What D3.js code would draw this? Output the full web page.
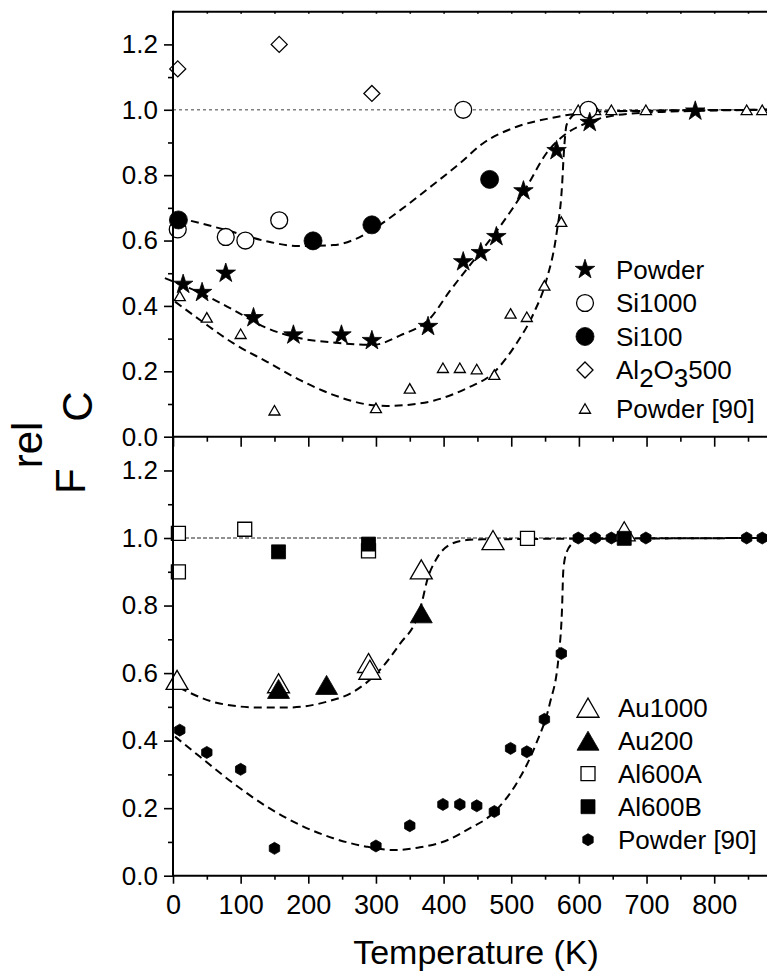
<!DOCTYPE html>
<html>
<head>
<meta charset="utf-8">
<script src="https://cdn.jsdelivr.net/npm/d3@7"></script>
<style>
  body { margin: 0; background: #fff; }
  svg { display: block; }
  text { font-family: "Liberation Sans", Arial, Helvetica, sans-serif; fill: #000; }
</style>
</head>
<body>
<svg id="chart" width="767" height="971"></svg>
<script>
// ---------- data: [temperature (K), relative value] ----------
// upper panel
const powderStars = [[15,0.466],[43,0.441],[78,0.500],[119,0.364],[178,0.311],[249,0.311],[294,0.294],[377,0.337],
  [429,0.535],[455,0.563],[478,0.612],[518,0.752],[567,0.875],[616,0.961],[772,0.996]];
const si1000 = [[7,0.634],[78,0.611],[107,0.600],[157,0.662],[429,1.0],[614,1.0]];
const si100 = [[8,0.663],[207,0.599],[294,0.648],[468,0.787]];
const al2o3 = [[7,1.125],[157,1.200],[294,1.050],[617,1.0]];
// reference powder data, shown in both panels
const powder90 = [[10,0.431],[50,0.365],[100,0.315],[150,0.081],[300,0.088],[350,0.148],[399,0.211],[424,0.211],
  [449,0.207],[475,0.190],[499,0.377],[523,0.367],[549,0.463],[574,0.658],[599,1.0],[624,1.0],[648,1.0],[699,1.0],[848,1.0],[871,1.0]];
// lower panel
const au1000 = [[6,0.58],[156,0.57],[289,0.63],[291,0.61],[367,0.907],[473,0.994],[667,1.02]];
const au200 = [[156,0.553],[227,0.565],[367,0.777]];
const al600A = [[8,1.014],[8,0.900],[106,1.026],[289,0.962],[524,0.999]];
const al600B = [[156,0.959],[289,0.982],[667,0.999]];

// guide-to-the-eye curves
const fitSi = [[8,0.67],[79,0.632],[140,0.597],[185,0.583],[237,0.586],[270,0.605],[300,0.64],[336,0.693],[384,0.770],
  [424,0.836],[458,0.897],[508,0.948],[557,0.974],[602,0.989],[680,0.997],[880,1.0]];
const fitPowder = [[-12,0.485],[40,0.44],[89,0.388],[139,0.332],[188,0.301],[237,0.288],[296,0.281],[336,0.31],[380,0.362],
  [409,0.445],[449,0.551],[483,0.642],[523,0.765],[552,0.867],[582,0.928],[611,0.959],[656,0.984],[730,0.994],[880,1.0]];
const fitPowder90Top = [[3,0.413],[40,0.357],[89,0.286],[139,0.229],[188,0.173],[237,0.128],[286,0.099],[316,0.094],[350,0.098],
  [385,0.11],[434,0.148],[473,0.194],[508,0.286],[533,0.377],[552,0.479],[567,0.622],[575,0.765],[578,0.877],[582,0.955],
  [597,0.989],[621,0.994],[672,0.996],[880,1.0]];
const fitAu = [[9,0.557],[69,0.51],[128,0.498],[168,0.498],[227,0.515],[267,0.545],[301,0.599],[336,0.688],[361,0.765],
  [368,0.81],[375,0.87],[390,0.94],[409,0.98],[434,0.994],[458,0.996],[880,1.0]];
const fitPowder90Bot = [[3,0.412],[40,0.352],[89,0.274],[139,0.204],[188,0.15],[237,0.111],[286,0.086],[326,0.076],[365,0.084],
  [409,0.108],[434,0.135],[473,0.185],[508,0.274],[537,0.392],[557,0.51],[570,0.649],[575,0.787],[577,0.905],[582,0.959],
  [594,0.989],[606,0.997],[880,1.0]];

// axis ticks
const xMajor = [0,100,200,300,400,500,600,700,800,900];
const xMinor = [50,150,250,350,450,550,650,750,850];
const yMajor = [0,0.2,0.4,0.6,0.8,1.0,1.2];
const yMinor = [0.1,0.3,0.5,0.7,0.9,1.1,1.3];

// ---------- layout ----------
const W = 767, H = 971;
const svg = d3.select("#chart");
svg.append("rect").attr("width", W).attr("height", H).attr("fill", "#fff");

const x = d3.scaleLinear().domain([0, 900]).range([173, 173 + 900 * 0.6765]);
const yTop = d3.scaleLinear().domain([0, 1.3]).range([436.7, 11.7]);
const yBot = d3.scaleLinear().domain([0, 1.3]).range([875.7, 436.7]);

// ---------- marker shapes ----------
const tri = w => { const h = w * 0.866; return `M0,${-h/2}L${w/2},${h/2}L${-w/2},${h/2}Z`; };
const hex = r => "M" + d3.range(6).map(i => {
  const a = (-90 + 60 * i) * Math.PI / 180; return [r * Math.cos(a), r * Math.sin(a)].join(",");
}).join("L") + "Z";
const shapes = {
  star: d3.symbol().type(d3.symbolStar).size(118)(),
  ring: d3.symbol().type(d3.symbolCircle).size(225)(),
  dot: d3.symbol().type(d3.symbolCircle).size(255)(),
  diamond: "M0,-8L8,0L0,8L-8,0Z",
  smallTri: tri(11),
  bigTri: tri(22),
  square: "M-7,-7h14v14h-14z",
  hex: hex(6)
};

// ---------- reference lines at 1.0 ----------
svg.append("line").attr("x1", x(0)).attr("x2", W).attr("y1", yTop(1)).attr("y2", yTop(1))
  .attr("stroke", "#808080").attr("stroke-width", 1.5).attr("stroke-dasharray", "3,3");
svg.append("line").attr("x1", x(0)).attr("x2", W).attr("y1", yBot(1)).attr("y2", yBot(1))
  .attr("stroke", "#222").attr("stroke-width", 1).attr("stroke-dasharray", "4,2");

// ---------- dashed curves ----------
function curve(data, y) {
  svg.append("path").datum(data)
    .attr("d", d3.line().x(d => x(d[0])).y(d => y(d[1])).curve(d3.curveMonotoneX))
    .attr("fill", "none").attr("stroke", "#000").attr("stroke-width", 2).attr("stroke-dasharray", "8,5");
}
curve(fitSi, yTop);
curve(fitPowder, yTop);
curve(fitPowder90Top, yTop);
curve(fitAu, yBot);
curve(fitPowder90Bot, yBot);

// ---------- markers ----------
function markers(data, y, shape, filled) {
  svg.append("g").selectAll("path").data(data).join("path")
    .attr("transform", d => `translate(${x(d[0])},${y(d[1])})`)
    .attr("d", shapes[shape])
    .attr("fill", filled ? "#000" : "#fff")
    .attr("stroke", "#000").attr("stroke-width", filled ? 0.8 : 1.3);
}
const topSeries = [
  { label: "Powder", data: powderStars, shape: "star", filled: true },
  { label: "Si1000", data: si1000, shape: "ring", filled: false },
  { label: "Si100", data: si100, shape: "dot", filled: true },
  { label: [["Al",0],["2",1],["O",0],["3",1],["500",0]], data: al2o3, shape: "diamond", filled: false },
  { label: "Powder [90]", data: powder90, shape: "smallTri", filled: false }
];
const botSeries = [
  { label: "Au1000", data: au1000, shape: "bigTri", filled: false },
  { label: "Au200", data: au200, shape: "bigTri", filled: true },
  { label: "Al600A", data: al600A, shape: "square", filled: false },
  { label: "Al600B", data: al600B, shape: "square", filled: true },
  { label: "Powder [90]", data: powder90, shape: "hex", filled: true }
];
// drawing order controls overlaps
[4, 3, 1, 2, 0].forEach(i => { const s = topSeries[i]; markers(s.data, yTop, s.shape, s.filled); });
[0, 1, 2, 3, 4].forEach(i => { const s = botSeries[i]; markers(s.data, yBot, s.shape, s.filled); });

// ---------- frame and axes ----------
function styleAxis(g, w) {
  g.select(".domain").remove();
  g.selectAll("line").attr("stroke", "#000").attr("stroke-width", w);
}
function yAxis(y) {
  const g = svg.append("g").attr("transform", `translate(${x(0)},0)`);
  g.call(d3.axisLeft(y).tickValues(yMajor).tickFormat(d3.format(".1f")).tickSize(9).tickPadding(6));
  styleAxis(g, 1.6);
  g.selectAll("text").attr("font-size", 26).attr("font-family", null);
  const m = svg.append("g").attr("transform", `translate(${x(0)},0)`);
  m.call(d3.axisLeft(y).tickValues(yMinor.filter(v => v < 1.3)).tickSize(5).tickFormat(""));
  styleAxis(m, 1.6);
}
yAxis(yTop);
yAxis(yBot);

function xTicks(yPos, values, size) {
  const g = svg.append("g").attr("transform", `translate(0,${yPos})`);
  g.call(d3.axisBottom(x).tickValues(values).tickSize(size).tickFormat(""));
  styleAxis(g, 1.6);
  return g;
}
// bottom axis with labels
const gx = svg.append("g").attr("transform", `translate(0,${yBot(0)})`);
gx.call(d3.axisBottom(x).tickValues(xMajor.filter(v => v <= 800)).tickSize(8));
styleAxis(gx, 1.6);
gx.selectAll("text").attr("font-size", 27).attr("font-family", null).attr("y", 38).attr("dy", 0);
xTicks(yBot(0), xMinor, 4);
// ticks under the upper panel
xTicks(yTop(0), xMajor, 10);
xTicks(yTop(0), xMinor, 5);
// small inner ticks along the top edge
xTicks(yTop(1.3), xMajor.concat(xMinor), 2);

// frame lines
const frame = svg.append("g").attr("stroke", "#000").attr("stroke-width", 2);
frame.append("line").attr("x1", x(0)).attr("x2", x(0)).attr("y1", yTop(1.3) - 1).attr("y2", yBot(0) + 1);
[yTop(1.3), yTop(0), yBot(0)].forEach(yy =>
  frame.append("line").attr("x1", x(0)).attr("x2", W).attr("y1", yy).attr("y2", yy));

// ---------- titles ----------
svg.append("text").attr("x", 476).attr("y", 964).attr("text-anchor", "middle")
  .attr("font-size", 34).text("Temperature (K)");

const yt = svg.append("text").attr("transform", "translate(85,494) rotate(-90)").attr("font-size", 42);
yt.append("tspan").text("F");
yt.append("tspan").attr("dy", -43).text("rel");
yt.append("tspan").attr("dy", 50).text("C");

// ---------- legends ----------
function legend(series, x0, tx, base0, gap) {
  let base = base0;
  series.forEach((s, i) => {
    if (i > 0) base += gap;
    if (i > 0 && Array.isArray(series[i - 1].label)) base += 5;
    svg.append("path").attr("transform", `translate(${x0},${base - 9})`)
      .attr("d", shapes[s.shape]).attr("fill", s.filled ? "#000" : "#fff")
      .attr("stroke", "#000").attr("stroke-width", s.filled ? 0.8 : 1.3);
    const t = svg.append("text").attr("x", tx).attr("y", base).attr("font-size", 26);
    if (Array.isArray(s.label)) {
      let shift = 0;
      s.label.forEach(([str, sub]) => {
        const d = (sub ? 8 : 0) - shift; shift = sub ? 8 : 0;
        t.append("tspan").attr("dy", d).text(str);
      });
    } else t.text(s.label);
  });
}
legend(topSeries, 585, 616, 278.5, 33.5);
legend(botSeries, 588, 618, 716.7, 33);
</script>
</body>
</html>
